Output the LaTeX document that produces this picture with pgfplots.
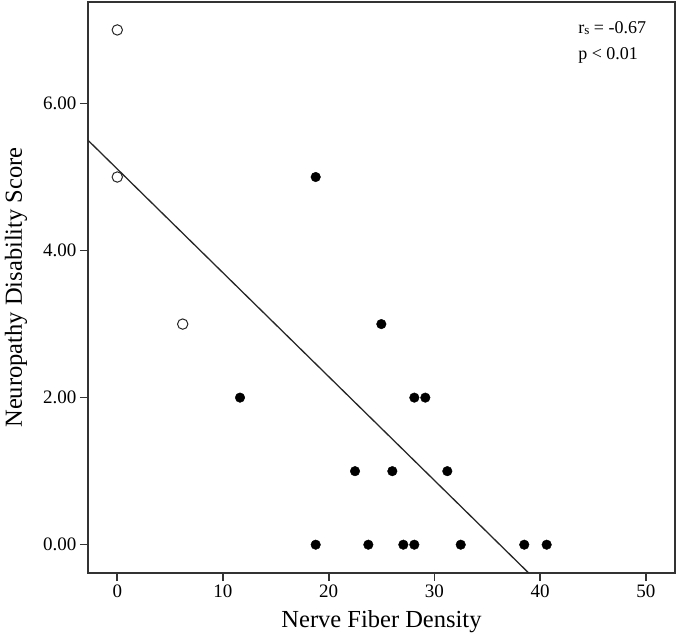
\documentclass[border=0pt]{standalone}
\usepackage{fontspec}
\setmainfont{Liberation Serif}
\usepackage{pgfplots}
\pgfplotsset{compat=1.18}
\begin{document}
\begin{tikzpicture}
\begin{axis}[
    scale only axis,
    width=587pt, height=571pt,
    xmin=-2.77, xmax=52.76,
    ymin=-0.385, ymax=7.38,
    xtick={0,10,20,30,40,50},
    ytick={0,2,4,6},
    yticklabel style={/pgf/number format/fixed, /pgf/number format/fixed zerofill, /pgf/number format/precision=2},
    /pgf/number format/assume math mode=true,
    tick align=outside, tick pos=left,
    major tick length=8pt,
    axis line style={line width=1.6pt, black!80},
    every tick/.style={line width=1.6pt, black!80},
    ticklabel style={font=\fontsize{19}{19}\selectfont},
    label style={font=\fontsize{24.5}{24.5}\selectfont},
    xlabel={Nerve Fiber Density},
    ylabel={Neuropathy Disability Score},
    xlabel style={at={([yshift=-54pt]axis description cs:0.5,0)}, anchor=base},
    ylabel style={at={([xshift=-66pt]axis description cs:0,0.5)}, anchor=base},
]
% fit line
\addplot[line width=1.3pt, black!85, no marks] coordinates {(-2.77,5.50) (38.92,-0.385)};
% filled points
\addplot[only marks, mark=*, mark size=4.8pt, black] coordinates {
    (18.77,5) (24.98,3) (11.61,2) (28.1,2) (29.14,2)
    (22.49,1) (26.02,1) (31.22,1)
    (18.77,0) (23.75,0) (27.06,0) (28.1,0) (32.49,0) (38.5,0) (40.62,0)
};
% open points
\addplot[only marks, mark=o, mark size=5.2pt, black!85, mark options={line width=1pt}] coordinates {
    (0,7) (0,5) (6.19,3)
};
\node[anchor=base west, inner sep=0pt, font=\fontsize{18}{18}\selectfont] at (axis description cs:0.835,0.944)
    {r\raisebox{-1pt}{\fontsize{13}{13}\selectfont s} = -0.67};
\node[anchor=base west, inner sep=0pt, font=\fontsize{18}{18}\selectfont] at (axis description cs:0.835,0.900)
    {p < 0.01};
\end{axis}
\pgfresetboundingbox
\path (-88pt,-60pt) rectangle (589pt,573pt);
\end{tikzpicture}
\end{document}
